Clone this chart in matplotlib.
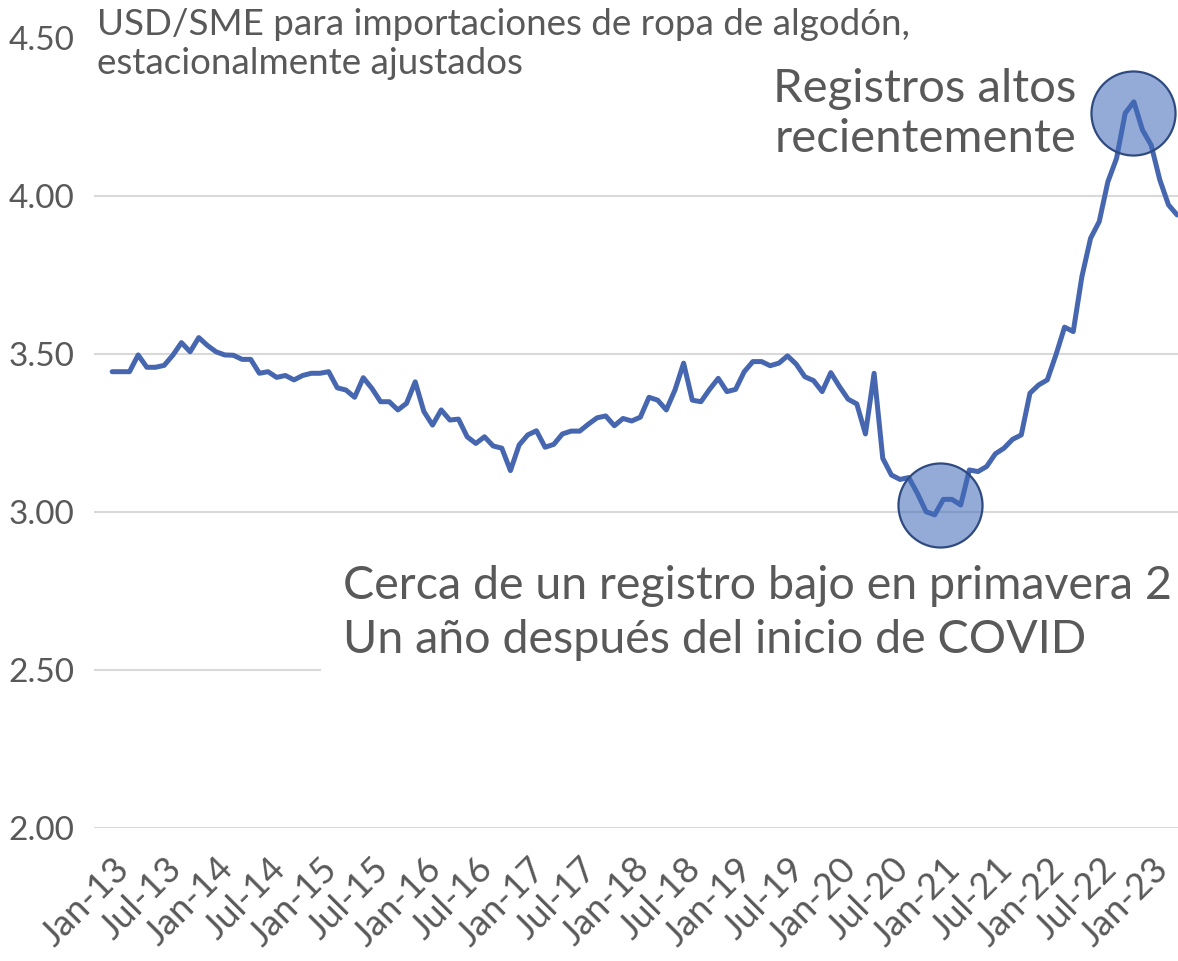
import matplotlib
matplotlib.use("Agg")
import matplotlib.pyplot as plt

plt.rcParams['font.family'] = ['Lato', 'DejaVu Sans']

# USD per square meter, monthly from Jan-13
price = [
    3.444, 3.444, 3.444, 3.497, 3.458, 3.458, 3.464, 3.496, 3.536, 3.507, 3.552, 3.527,
    3.507, 3.497, 3.496, 3.483, 3.483, 3.439, 3.444, 3.426, 3.432, 3.418, 3.432, 3.439,
    3.439, 3.444, 3.393, 3.386, 3.363, 3.425, 3.391, 3.349, 3.349, 3.323, 3.344, 3.412,
    3.318, 3.275, 3.323, 3.291, 3.294, 3.238, 3.217, 3.238, 3.209, 3.202, 3.131, 3.212,
    3.244, 3.257, 3.205, 3.214, 3.247, 3.256, 3.256, 3.278, 3.298, 3.304, 3.273, 3.296,
    3.288, 3.300, 3.363, 3.354, 3.323, 3.386, 3.471, 3.354, 3.349, 3.388, 3.423, 3.381,
    3.388, 3.444, 3.476, 3.476, 3.463, 3.471, 3.494, 3.468, 3.428, 3.416, 3.381, 3.441,
    3.397, 3.357, 3.342, 3.247, 3.439, 3.170, 3.117, 3.103, 3.109, 3.059, 3.001, 2.991,
    3.040, 3.040, 3.022, 3.133, 3.128, 3.144, 3.184, 3.202, 3.230, 3.244, 3.376, 3.402,
    3.418, 3.497, 3.585, 3.571, 3.745, 3.866, 3.919, 4.045, 4.119, 4.262, 4.298, 4.209,
    4.161, 4.051, 3.972, 3.940,
]

tick_labels = ['Jan-13', 'Jul-13', 'Jan-14', 'Jul-14', 'Jan-15', 'Jul-15', 'Jan-16',
               'Jul-16', 'Jan-17', 'Jul-17', 'Jan-18', 'Jul-18', 'Jan-19', 'Jul-19',
               'Jan-20', 'Jul-20', 'Jan-21', 'Jul-21', 'Jan-22', 'Jul-22', 'Jan-23']
y_ticks = [2.0, 2.5, 3.0, 3.5, 4.0, 4.5]

# highlighted spots (month index, value)
low_spot = (95.6, 3.022)
high_spot = (117.9, 4.263)

grey = '#595959'

fig = plt.figure(figsize=(11.78, 9.61), dpi=100)
ax = fig.add_axes([94 / 1178, 1 - 828 / 961, 1 - 94 / 1178, (828 - 38) / 961])

x = list(range(len(price)))
ax.plot(x, price, color='#4667B0', lw=3.6, solid_joinstyle='round',
        solid_capstyle='round', zorder=3)

ax.set_xlim(-2.1, 123.1)
ax.set_ylim(2.0, 4.5)
ax.set_yticks(y_ticks)
ax.set_yticklabels([f'{v:.2f}' for v in y_ticks])
ax.set_xticks(list(range(0, 6 * len(tick_labels), 6)))
ax.set_xticklabels(tick_labels, rotation=45, ha='right', va='top', rotation_mode='anchor')

ax.tick_params(axis='both', length=0, colors=grey)
ax.tick_params(axis='y', pad=14, labelsize=24)
ax.tick_params(axis='x', pad=17, labelsize=26)
for s in ax.spines.values():
    s.set_visible(False)
ax.yaxis.grid(True, color='#D9D9D9', lw=1.5, zorder=0)
ax.yaxis.get_gridlines()[-1].set_visible(False)
ax.set_axisbelow(True)

for cx, cy in (low_spot, high_spot):
    ax.scatter([cx], [cy], s=60.5 ** 2, facecolor=(0.26, 0.42, 0.72, 0.57),
               edgecolor='#2E4A80', linewidth=1.6, zorder=4, clip_on=False)

fig.text(97 / 1178, 1 - 8 / 961,
         'USD/SME para importaciones de ropa de algodón,\nestacionalmente ajustados',
         ha='left', va='top', fontsize=26.5, color=grey, linespacing=1.22)

fig.text(1076 / 1178, 1 - 68 / 961, 'Registros altos\nrecientemente',
         ha='right', va='top', fontsize=34, color=grey, linespacing=1.25)

ax.text(343 / 1178, 1 - 565 / 961,
        'Cerca de un registro bajo en primavera 2\nUn año después del inicio de COVID',
        transform=fig.transFigure, ha='left', va='top', fontsize=33.6, color=grey,
        linespacing=1.36, zorder=2, clip_on=False,
        bbox=dict(facecolor='white', edgecolor='none', pad=16))

fig.savefig('out.png', dpi=100)
